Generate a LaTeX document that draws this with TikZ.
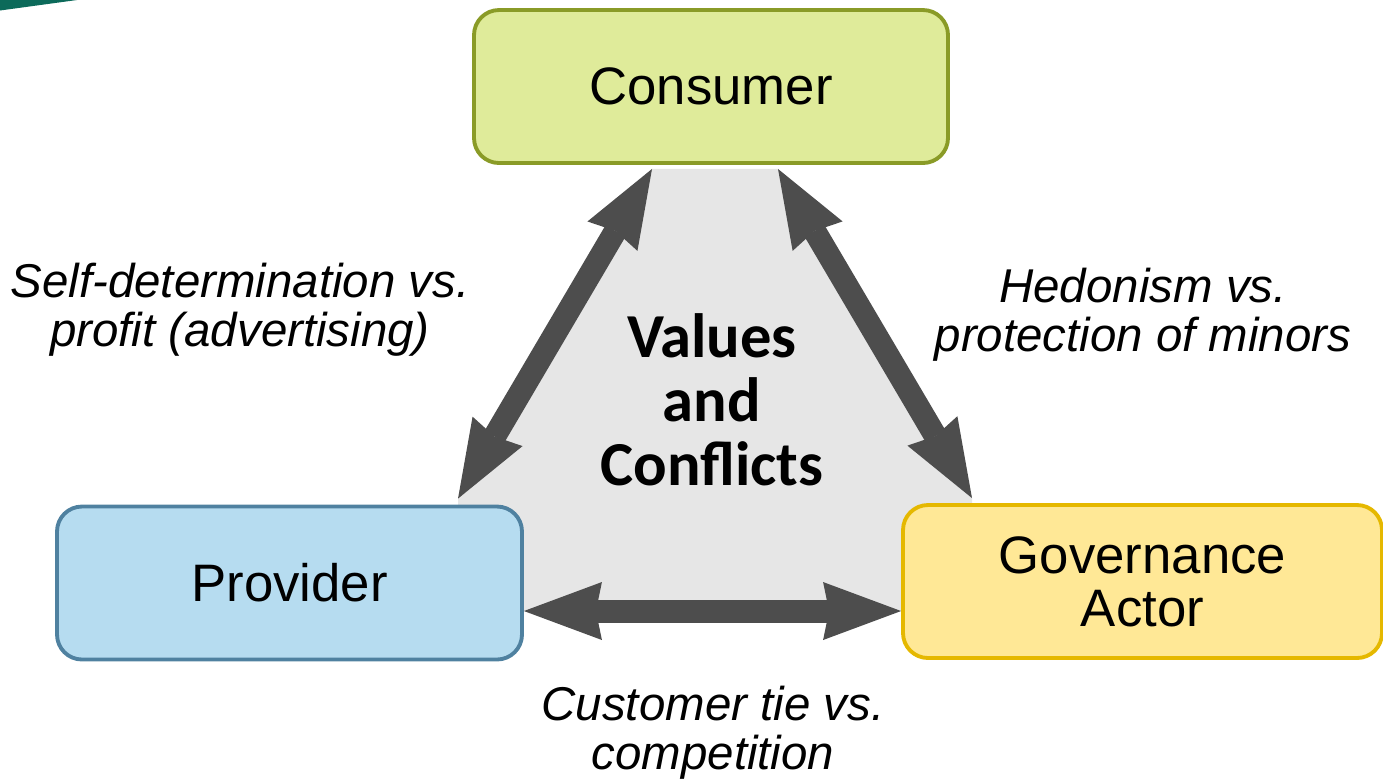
\documentclass[tikz,border=0pt]{standalone}
\usepackage{fontspec}
\setmainfont{Liberation Sans}
\newfontfamily\valfont{Carlito}
\usetikzlibrary{arrows.meta,calc,backgrounds}
\definecolor{consfill}{HTML}{DFEB9A}
\definecolor{consline}{HTML}{8A9B27}
\definecolor{provfill}{HTML}{B6DCF0}
\definecolor{provline}{HTML}{4F81A0}
\definecolor{govfill}{HTML}{FFE896}
\definecolor{govline}{HTML}{E5B800}
\definecolor{arrowgray}{HTML}{4D4D4D}
\definecolor{valbg}{HTML}{E6E6E6}
\definecolor{slide}{HTML}{0C6A5A}
\tikzset{
  actor/.style={draw, line width=1.1pt, rounded corners=0.25cm, minimum height=1.53cm,
    align=center, inner sep=0pt, font=\fontsize{15}{15}\selectfont},
  clashlabel/.style={align=center, font=\fontsize{13.5}{14}\selectfont\itshape},
  conflict/.style={draw=arrowgray, line width=0.23cm,
    {Stealth[length=0.78cm,width=0.58cm,inset=0.06cm,line width=0pt]}-{Stealth[length=0.78cm,width=0.58cm,inset=0.06cm,line width=0pt]}}
}

\begin{document}
\begin{tikzpicture}
  \useasboundingbox (0,0) rectangle (13.83,-7.78);
  \fill[slide] (0,0) -- (0.77,0) -- (0,-0.105) -- cycle;

  \node[actor, fill=consfill, draw=consline, minimum width=4.74cm] (consumer) at (7.11,-0.865) {Consumer};
  \node[actor, fill=provfill, draw=provline, minimum width=4.65cm] (provider) at (2.895,-5.83) {Provider};
  \node[actor, fill=govfill, draw=govline, minimum width=4.79cm] (governance) at (11.425,-5.815) {Governance\\Actor};

  \coordinate (cl) at ($(consumer.south)+(-0.59,-0.04)$);
  \coordinate (cr) at ($(consumer.south)+(0.67,-0.04)$);
  \coordinate (pl) at ($(provider.north)+(1.685,0.06)$);
  \coordinate (gl) at ($(governance.north)+(-1.705,0.05)$);
  \coordinate (pr) at ($(provider.east)+(0,-0.28)$);

  \begin{scope}[on background layer]
    \fill[valbg] (cl) -- (cr) -- (gl) -- (gl |- pr) -- (pl |- pr) -- (pl) -- cycle;
  \end{scope}

  \node[align=center, font=\valfont\bfseries\fontsize{17.8}{18.2}\selectfont] (values) at (7.12,-4.0) {Values\\and\\Conflicts};

  \draw[conflict] (cl) -- (pl);
  \draw[conflict] (cr) -- (gl);
  \draw[conflict] (pr) -- (pr -| governance.west);

  \node[clashlabel] (selfdet) at (2.40,-3.10) {Self-determination vs.\\profit (advertising)};
  \node[clashlabel] (hedon) at (11.43,-3.15) {Hedonism vs.\\protection of minors};
  \node[clashlabel] (custtie) at (7.13,-7.33) {Customer tie vs.\\competition};
\end{tikzpicture}
\end{document}
